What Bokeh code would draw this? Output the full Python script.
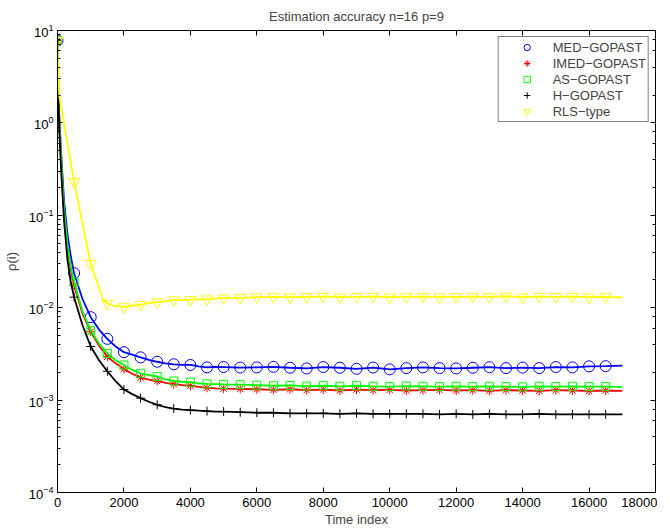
from bokeh.plotting import figure
from bokeh.models import (Legend, LegendItem, LogAxis, LinearAxis, FixedTicker,
                          ColumnDataSource, LogTicker)
from bokeh.embed import file_html
from bokeh.resources import INLINE

# ---------------- data ----------------
t = [0, 25, 50, 100, 150, 200, 300, 400,
     500, 750, 1000, 1250, 1500, 1750, 2000, 2250, 2500, 2750, 3000, 3250,
     3500, 3750, 4000, 4250, 4500, 4750, 5000,
     5500, 6000, 6500, 7000, 7500, 8000, 8500, 9000, 9500, 10000, 10500, 11000,
     11500, 12000, 12500, 13000, 13500, 14000, 14500, 15000, 15500, 16000,
     16500, 17000]

med_gopast = [7.8, 2.6, 1.3, 0.55, 0.27, 0.14, 0.062, 0.036,
              0.0236, 0.0125, 0.0079, 0.0058, 0.0046, 0.0038, 0.0033, 0.0031,
              0.0029, 0.00272, 0.0026, 0.0025, 0.00244, 0.0024, 0.0024,
              0.00232, 0.00226, 0.00229, 0.00228,
              0.00225, 0.00226, 0.00229, 0.00224, 0.0022, 0.00228, 0.00224,
              0.00218, 0.00225, 0.00215, 0.00222, 0.00226, 0.00222, 0.0022,
              0.00224, 0.00227, 0.00222, 0.00225, 0.00222, 0.00228, 0.00226,
              0.00232, 0.00233, 0.00236]

imed_gopast = [7.8, 2.3, 1.1, 0.45, 0.21, 0.11, 0.045, 0.026,
               0.0174, 0.0087, 0.0055, 0.0039, 0.00295, 0.0025, 0.00217,
               0.00193, 0.00175, 0.00167, 0.00161, 0.00154, 0.00149, 0.00145,
               0.00143, 0.00139, 0.00136, 0.00134, 0.00133,
               0.00132, 0.00131, 0.00129, 0.00131, 0.00128, 0.0013, 0.00127,
               0.0013, 0.00128, 0.00129, 0.00127, 0.00128, 0.00129, 0.00127,
               0.00128, 0.00126, 0.00128, 0.00127, 0.00126, 0.00128, 0.00127,
               0.00126, 0.00127, 0.00126]

as_gopast = [7.8, 2.4, 1.15, 0.48, 0.22, 0.115, 0.048, 0.028,
             0.019, 0.0092, 0.0057, 0.0041, 0.0032, 0.0027, 0.0024, 0.00212,
             0.00195, 0.00186, 0.0018, 0.00168, 0.00161, 0.00158, 0.00156,
             0.00152, 0.0015, 0.00149, 0.00148,
             0.00147, 0.00145, 0.00143, 0.00144, 0.00142, 0.00143, 0.00141,
             0.00143, 0.00141, 0.0014, 0.00142, 0.00141, 0.0014, 0.00141,
             0.0014, 0.00141, 0.0014, 0.00139, 0.00141, 0.0014, 0.00141,
             0.0014, 0.0014, 0.00139]

h_gopast = [7.8, 2.0, 0.9, 0.35, 0.17, 0.085, 0.033, 0.019,
            0.0130, 0.0065, 0.0038, 0.0027, 0.00205, 0.0016, 0.0013, 0.00116,
            0.00105, 0.00096, 0.00089, 0.00084, 0.00081, 0.00079, 0.00078,
            0.00077, 0.00076, 0.00075, 0.00075,
            0.00074, 0.00073, 0.00073, 0.00072, 0.00072, 0.00072, 0.00071,
            0.00072, 0.00071, 0.00071, 0.00071, 0.00071, 0.0007, 0.00071,
            0.0007, 0.00071, 0.0007, 0.0007, 0.00071, 0.0007, 0.0007,
            0.0007, 0.0007, 0.0007]

t_rls = [0, 50, 500, 1000, 1375, 1500, 1750, 2000, 2250, 2500, 2750, 3000,
         3500, 4000, 4500, 5000,
         5500, 6000, 6500, 7000, 7500, 8000, 8500, 9000, 9500, 10000, 10500,
         11000, 11500, 12000, 12500, 13000, 13500, 14000, 14500, 15000, 15500,
         16000, 16500, 17000]
rls_type = [7.8, 2.0, 0.23, 0.030, 0.0121, 0.0111, 0.0104, 0.0102, 0.0105,
            0.0108, 0.0112, 0.0115, 0.0121, 0.0122, 0.0124, 0.0127,
            0.0128, 0.013, 0.0131, 0.013, 0.0131, 0.0132, 0.013, 0.0131,
            0.0132, 0.013, 0.0131, 0.0132, 0.013, 0.0131, 0.0132, 0.0131,
            0.0133, 0.013, 0.0132, 0.0131, 0.0132, 0.013, 0.0131, 0.0129]

labels = ["MED\u2212GOPAST", "IMED\u2212GOPAST", "AS\u2212GOPAST", "H\u2212GOPAST", "RLS\u2212type"]
x_ticks = [0, 2000, 4000, 6000, 8000, 10000, 12000, 14000, 16000, 18000]
marker_step = 500
marker_last = 16500

FONT = "Liberation Sans"

p = figure(width=657, height=529, y_axis_type="log",
           x_range=(0, 18000), y_range=(1e-4, 10),
           output_backend="svg", toolbar_location=None,
           min_border_left=53, min_border_right=2, min_border_bottom=0,
           min_border_top=0,
           title="Estimation accuracy n=16 p=9")
p.title.text_font = FONT
p.title.text_font_size = "13px"
p.title.text_font_style = "normal"
p.title.align = "center"
p.title.standoff = 13
p.background_fill_color = "white"
p.border_fill_color = "white"
p.outline_line_color = "black"
p.xgrid.visible = False
p.ygrid.visible = False


def style_axis(ax, show_labels=True):
    ax.axis_line_color = "black"
    ax.major_tick_line_color = "black"
    ax.minor_tick_line_color = "black"
    ax.major_tick_in = 5
    ax.major_tick_out = 0
    ax.minor_tick_in = 3
    ax.minor_tick_out = 0
    ax.major_label_text_font = FONT
    ax.major_label_text_color = "black"
    ax.major_label_text_font_size = "13px"
    ax.major_label_standoff = 4
    if not show_labels:
        ax.major_label_text_alpha = 0
        ax.major_label_text_font_size = "1px"
        ax.major_label_standoff = 0


xt = FixedTicker(ticks=x_ticks, minor_ticks=[])
p.xaxis.ticker = xt
style_axis(p.xaxis[0])
style_axis(p.yaxis[0])
p.xaxis.major_label_standoff = 5
p.xaxis.axis_label = "Time index"
p.xaxis.axis_label_text_font = FONT
p.xaxis.axis_label_text_font_size = "13px"
p.xaxis.axis_label_text_font_style = "normal"
p.xaxis.axis_label_standoff = 2
p.yaxis.axis_label = "\u03c1(i)"
p.yaxis.axis_label_text_font = FONT
p.yaxis.axis_label_text_font_size = "13px"
p.yaxis.axis_label_text_font_style = "normal"
p.yaxis.axis_label_standoff = 7

top_ax = LinearAxis(ticker=FixedTicker(ticks=x_ticks, minor_ticks=[]))
style_axis(top_ax, show_labels=False)
p.add_layout(top_ax, "above")
right_ax = LogAxis(ticker=LogTicker())
style_axis(right_ax, show_labels=False)
p.add_layout(right_ax, "right")

series = [
    (t, med_gopast, "#0000ff", "circle", 11),
    (t, imed_gopast, "#ff0000", "asterisk", 9),
    (t, as_gopast, "#00ff00", "square", 8),
    (t, h_gopast, "#000000", "cross", 9),
    (t_rls, rls_type, "#ffff00", "inverted_triangle", 11),
]

items = []
for (tx, vals, col, mk, sz), lab in zip(series, labels):
    p.line(tx, vals, line_color=col, line_width=1.8)
    mx = [a for a in tx if a % marker_step == 0 and a <= marker_last]
    my = [v for a, v in zip(tx, vals) if a % marker_step == 0 and a <= marker_last]
    src = ColumnDataSource(dict(x=mx, y=my))
    r = p.scatter("x", "y", source=src, marker=mk, size=sz, line_color=col,
                  fill_color=None, line_width=1)
    items.append(LegendItem(label=lab, renderers=[r]))

legend = Legend(items=items, location="top_right", margin=6,
                padding=2, spacing=0, glyph_width=52, glyph_height=16,
                label_height=16, label_standoff=0,
                label_text_font=FONT, label_text_font_size="13px",
                border_line_color="black", border_line_width=1,
                background_fill_color="white", background_fill_alpha=1)
p.add_layout(legend)

open("out.html", "w").write(file_html(p, INLINE))
